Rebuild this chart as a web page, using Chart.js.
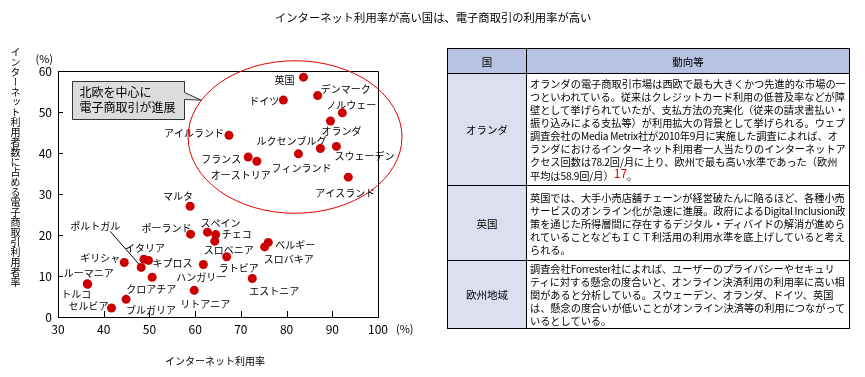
<!DOCTYPE html>
<html lang="ja">
<head>
<meta charset="utf-8">
<script src="https://cdn.jsdelivr.net/npm/chart.js@4/dist/chart.umd.min.js"></script>
<style>
  body { margin: 0; background: #fff; font-family: "Noto Sans CJK JP", sans-serif; color: #000; }
  #wrap { position: relative; width: 865px; height: 377px; overflow: hidden; }
  #chart { position: absolute; left: 0; top: 0; }
  .title { position: absolute; left: 275px; top: 9px; font-size: 11.3px; line-height: 16px; white-space: nowrap; }
  .ytitle { position: absolute; left: 10px; top: 47px; writing-mode: vertical-rl; font-size: 10px; line-height: 11px; white-space: nowrap; }
  .xtitle { position: absolute; left: 115px; width: 200px; top: 354px; text-align: center; font-size: 10px; line-height: 14px; }
  table { position: absolute; left: 447px; top: 48px; width: 403px; border-collapse: collapse; table-layout: fixed; font-size: 10.2px; }
  td, th { border: 1px solid #000; padding: 0; }
  th { background: #b8c2e3; font-weight: normal; height: 24px; font-size: 10.5px; }
  td.name { background: #dcdff0; text-align: center; font-size: 10.5px; }
  td.txt { padding-left: 3px; line-height: 13px; white-space: nowrap; overflow: hidden; vertical-align: middle; }
  .lat { letter-spacing: -0.3px; }
  .ref { color: #e00000; font-size: 12px; position: relative; top: -2px; }
</style>
</head>
<body>
<div id="wrap">
  <canvas id="chart" width="865" height="377"></canvas>
  <div class="title">インターネット利用率が高い国は、電子商取引の利用率が高い</div>
  <div class="ytitle">インターネット利用者数に占める電子商取引利用者率</div>
  <div class="xtitle">インターネット利用率</div>
  <table>
    <colgroup><col style="width:79px"><col></colgroup>
    <tr><th>国</th><th>動向等</th></tr>
    <tr style="height:112px"><td class="name">オランダ</td><td class="txt">オランダの電子商取引市場は西欧で最も大きくかつ先進的な市場の一<br>つといわれている。従来はクレジットカード利用の低普及率などが障<br>壁として挙げられていたが、支払方法の充実化（従来の請求書払い・<br>振り込みによる支払等）が利用拡大の背景として挙げられる。ウェブ<br>調査会社の<span class="lat">Media Metrix</span>社が<span class="lat">2010</span>年<span class="lat">9</span>月に実施した調査によれば、オ<br>ランダにおけるインターネット利用者一人当たりのインターネットア<br>クセス回数は<span class="lat">78.2</span>回/月に上り、欧州で最も高い水準であった（欧州<br>平均は<span class="lat">58.9</span>回/月）<span class="ref">17</span>。</td></tr>
    <tr style="height:75px"><td class="name">英国</td><td class="txt">英国では、大手小売店舗チェーンが経営破たんに陥るほど、各種小売<br>サービスのオンライン化が急速に進展。政府による<span class="lat">Digital Inclusion</span>政<br>策を通じた所得層間に存在するデジタル・ディバイドの解消が進めら<br>れていることなどもＩＣＴ利活用の利用水準を底上げしていると考え<br>られる。</td></tr>
    <tr style="height:68px"><td class="name">欧州地域</td><td class="txt">調査会社<span class="lat">Forrester</span>社によれば、ユーザーのプライバシーやセキュリ<br>ティに対する懸念の度合いと、オンライン決済利用の利用率に高い相<br>関があると分析している。スウェーデン、オランダ、ドイツ、英国<br>は、懸念の度合いが低いことがオンライン決済等の利用につながって<br>いるとしている。</td></tr>
  </table>
</div>
<script>
// data
const countries = [
  '英国', 'デンマーク', 'ドイツ', 'ノルウェー', 'オランダ', 'アイルランド',
  'ルクセンブルグ', 'スウェーデン', 'フィンランド', 'フランス', 'オーストリア', 'アイスランド',
  'マルタ', 'ポーランド', 'スペイン', 'チェコ', 'スロベニア', 'ベルギー',
  'スロバキア', 'ラトビア', 'ハンガリー', 'エストニア', 'リトアニア', 'ポルトガル',
  'イタリア', 'キプロス', 'ギリシャ', 'クロアチア', 'ルーマニア', 'トルコ',
  'ブルガリア', 'セルビア'
];
const internetRate = [
  83.7, 86.8, 79.3, 92.2, 89.6, 67.4,
  87.4, 90.9, 82.6, 71.6, 73.5, 93.5,
  58.9, 59.0, 62.7, 64.5, 64.3, 76.0,
  75.2, 66.9, 61.8, 72.5, 59.8, 48.2,
  48.8, 49.8, 44.5, 50.6, 36.5, 36.4,
  44.9, 41.7
];
const ecommerceRate = [
  58.5, 54.0, 52.9, 49.8, 47.8, 44.3,
  41.1, 41.6, 39.8, 39.0, 38.0, 34.1,
  27.0, 20.2, 20.7, 20.1, 18.5, 18.2,
  17.1, 14.7, 12.8, 9.4, 6.5, 12.1,
  14.1, 13.8, 13.3, 9.7, 8.0, 8.1,
  4.3, 2.2
];
const xTickValues = [30, 40, 50, 60, 70, 80, 90, 100];
const yTickValues = [0, 10, 20, 30, 40, 50, 60];
const calloutLines = ['北欧を中心に', '電子商取引が進展'];

// where each country name sits next to its dot (pixels from the dot)
const labelLayout = [
  ['right', -9, 3], ['left', 3, -6], ['right', -4, 1], ['left', -16, -8], ['left', -9, 10], ['right', -5, -2],
  ['right', 6, -7], ['left', -2, 10], ['center', 3, 14], ['right', -7, 2], ['right', 14, 14], ['center', -3, 16],
  ['right', 3, -10], ['right', 1, -6], ['left', -7, -9], ['left', 6, 0], ['left', -11, 9], ['left', 7, 3],
  ['left', -1, 12], ['left', -8, 11], ['center', -2, 13], ['left', -3, 13], ['left', -14, 14], ['right', -21, -41, [-31, -36, -2, -3]],
  ['center', 1, -11], ['left', 4, 3], ['right', -4, -4], ['center', -1, 12], ['center', 1, -11], ['right', 4, 10],
  ['left', 0, 11], ['right', -3, -2]
];

const JP = '"Noto Sans CJK JP", sans-serif';

const overlayPlugin = {
  id: 'overlay',
  beforeDatasetsDraw(chart) {
    const { ctx, chartArea: a, scales: { x, y } } = chart;
    ctx.save();
    ctx.strokeStyle = '#000';
    ctx.lineWidth = 1;
    // top and right frame
    ctx.beginPath();
    ctx.moveTo(a.left, Math.round(a.top) + 0.5);
    ctx.lineTo(Math.round(a.right) + 0.5, Math.round(a.top) + 0.5);
    ctx.lineTo(Math.round(a.right) + 0.5, a.bottom);
    ctx.stroke();
    // inward ticks
    ctx.beginPath();
    xTickValues.forEach(v => {
      const px = Math.round(x.getPixelForValue(v)) + 0.5;
      ctx.moveTo(px, a.bottom);
      ctx.lineTo(px, a.bottom - 6);
    });
    yTickValues.forEach(v => {
      const py = Math.round(y.getPixelForValue(v)) + 0.5;
      ctx.moveTo(a.left, py);
      ctx.lineTo(a.left + 5, py);
    });
    ctx.stroke();

    // units
    ctx.fillStyle = '#000';
    ctx.font = '11px ' + JP;
    ctx.textBaseline = 'middle';
    ctx.textAlign = 'right';
    ctx.fillText('(%)', a.left - 5, a.top - 12);
    ctx.textAlign = 'left';
    ctx.fillText('(%)', a.right + 18, a.bottom + 12);

    // ellipse around the high-use countries
    const cx = x.getPixelForValue(81.85), cy = y.getPixelForValue(43.9);
    const rx = x.getPixelForValue(81.85 + 23.4) - cx;
    const ry = y.getPixelForValue(43.9 - 18.6) - cy;
    ctx.strokeStyle = '#e00000';
    ctx.beginPath();
    ctx.ellipse(cx, cy, rx, ry, 0, 0, Math.PI * 2);
    ctx.stroke();

    // country names
    const meta = chart.getDatasetMeta(0);
    ctx.font = '10px ' + JP;
    ctx.fillStyle = '#000';
    ctx.strokeStyle = '#000';
    meta.data.forEach((pt, i) => {
      const [align, dx, dy, line] = labelLayout[i];
      ctx.textAlign = align;
      ctx.fillText(countries[i], pt.x + dx, pt.y + dy);
      if (line) {
        ctx.beginPath();
        ctx.moveTo(pt.x + line[0], pt.y + line[1]);
        ctx.lineTo(pt.x + line[2], pt.y + line[3]);
        ctx.stroke();
      }
    });
    ctx.restore();
  },
  afterDatasetsDraw(chart) {
    const { ctx, scales: { x, y } } = chart;
    // callout box
    const l = Math.round(x.getPixelForValue(33.0)) + 0.5;
    const r = Math.round(x.getPixelForValue(57.6)) + 0.5;
    const t = Math.round(y.getPixelForValue(57.6)) + 0.5;
    const b = Math.round(y.getPixelForValue(48.2)) + 0.5;
    const tipX = x.getPixelForValue(61.3), tipY = y.getPixelForValue(52.9);
    ctx.save();
    ctx.fillStyle = '#dcdcdc';
    ctx.strokeStyle = '#333';
    ctx.lineWidth = 1;
    ctx.beginPath();
    ctx.moveTo(l, t);
    ctx.lineTo(r, t);
    ctx.lineTo(r, t + 11);
    ctx.lineTo(tipX, tipY);
    ctx.lineTo(r, t + 18);
    ctx.lineTo(r, b);
    ctx.lineTo(l, b);
    ctx.closePath();
    ctx.fill();
    ctx.stroke();
    ctx.fillStyle = '#000';
    ctx.font = '12px ' + JP;
    ctx.textAlign = 'left';
    ctx.textBaseline = 'middle';
    calloutLines.forEach((s, i) => ctx.fillText(s, l + 7, t + 11 + i * 15));
    ctx.restore();
  }
};

new Chart(document.getElementById('chart'), {
  type: 'scatter',
  data: {
    datasets: [{
      label: 'EC利用率',
      data: internetRate.map((v, i) => ({ x: v, y: ecommerceRate[i] })),
      backgroundColor: '#cc0000',
      borderWidth: 0,
      pointRadius: 4.5,
      pointHoverRadius: 4.5
    }]
  },
  options: {
    responsive: false,
    animation: false,
    layout: { padding: { left: 28, top: 71, right: 487, bottom: 40 } },
    plugins: { legend: { display: false }, tooltip: { enabled: false } },
    scales: {
      x: {
        type: 'linear', min: 30, max: 100,
        afterBuildTicks: s => { s.ticks = xTickValues.map(v => ({ value: v })); },
        afterFit: s => { s.height = 20; },
        grid: { display: false, drawTicks: false },
        border: { display: true, color: '#000', width: 1 },
        ticks: { color: '#000', font: { family: JP, size: 12 }, padding: 5, maxRotation: 0, autoSkip: false }
      },
      y: {
        type: 'linear', min: 0, max: 60,
        afterBuildTicks: s => { s.ticks = yTickValues.map(v => ({ value: v })); },
        afterFit: s => { s.width = 30; },
        grid: { display: false, drawTicks: false },
        border: { display: true, color: '#000', width: 1 },
        ticks: { color: '#000', font: { family: JP, size: 12 }, padding: 6 }
      }
    }
  },
  plugins: [overlayPlugin]
});
</script>
</body>
</html>
